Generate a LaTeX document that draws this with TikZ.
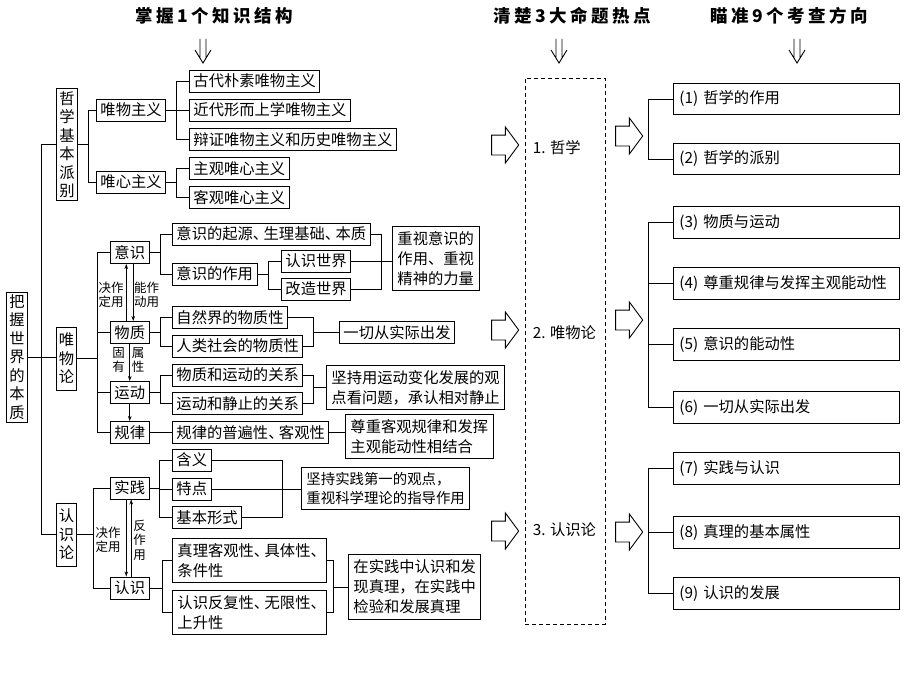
\documentclass[tikz,border=0pt]{standalone}
\usepackage{fontspec}
\setmainfont{Noto Sans CJK SC}
\newfontfamily\ttlfont{Noto Sans CJK SC}[LetterSpace=20]
\usetikzlibrary{arrows.meta,shapes.arrows}
\newcommand{\dunhao}{\makebox[0.7em][l]{、}}

\begin{document}
\begin{tikzpicture}
 [x=1pt,y=-1pt,line width=0.9pt,
  font=\fontsize{15.3}{20}\selectfont,
  box/.style ={draw,anchor=west,minimum height=22pt,inner xsep=4pt,inner ysep=2pt},
  mbox/.style ={draw,anchor=west,align=left,inner xsep=5pt,inner ysep=5pt},
  vbox/.style ={draw,align=center,inner sep=2.5pt,font=\fontsize{15.3}{18.5}\selectfont},
  note/.style ={align=center,inner sep=0pt,font=\fontsize{12.5}{14.5}\selectfont},
  fx/.style ={draw,anchor=west,align=left,text width=214pt,inner xsep=6pt,minimum height=31.5pt},
  hollow/.style ={draw,single arrow,single arrow head extend=8pt,single arrow tip angle=107,minimum height=27pt,inner xsep=0pt,inner ysep=9.5pt},
  ttl/.style ={font=\fontsize{17.5}{20}\selectfont\ttlfont\bfseries},
  oneway/.style ={-{Stealth[length=5pt,width=3.5pt]}},
  dnarrow/.pic ={\draw (-3,0) -- (-3,19) (3,0) -- (3,19) (-8,11) -- (0,24) -- (8,11);}]
 \useasboundingbox (0,0) rectangle (920,690);

 % titles
 \node[ttl] (h1) at (214,16) {掌握1个知识结构};
 \node[ttl] (h2) at (572,16) {清楚3大命题热点};
 \node[ttl] (h3) at (789,16) {瞄准9个考查方向};
 \pic at (203,39) {dnarrow};
 \pic at (559,39) {dnarrow};
 \pic at (797,39) {dnarrow};

 % left trunk
 \node[vbox] (bz) at (17,357) {把\\握\\世\\界\\的\\本\\质};
 \node[vbox] (zx) at (67,144.5) {哲\\学\\基\\本\\派\\别};
 \node[vbox,minimum height=63pt] (wwl) at (66.5,358.5) {唯\\物\\论};
 \node[vbox,minimum height=63pt] (rsl) at (66.5,534.5) {认\\识\\论};
 \draw (zx.west) -- ++(-15,0) |- (rsl.west);
 \draw (bz.east) -- (bz.east -| wwl.west);

 % zhexue jiben paibie
 \node[box] (wz) at (96,110) {唯物主义};
 \node[box] (wx) at (96,182) {唯心主义};
 \node[box] (g1) at (189,81) {古代朴素唯物主义};
 \node[box] (g2) at (189,110) {近代形而上学唯物主义};
 \node[box] (g3) at (189,139.5) {辩证唯物主义和历史唯物主义};
 \node[box] (g4) at (189,168.5) {主观唯心主义};
 \node[box] (g5) at (189,197.5) {客观唯心主义};
 \draw (wz.west) -- ++(-8,0) coordinate (c1) |- (wx.west) (zx.east) -- (zx.east -| c1);
 \draw (g1.west) -- ++(-13,0) coordinate (c2) |- (g3.west) (g2.west) -- ++(-13,0) (wz.east) -- (wz.east -| c2);
 \draw (g4.west) -- ++(-13,0) coordinate (c3) |- (g5.west) (wx.east) -- (wx.east -| c3);

 % weiwulun
 \node[box] (ys) at (110,252.5) {意识};
 \node[box] (wzh) at (110,332.5) {物质};
 \node[box] (yd) at (110,392.5) {运动};
 \node[box] (gl) at (110,432.5) {规律};
 \draw (ys.west) -- ++(-13,0) coordinate (c4) |- (gl.west) (wzh.west) -- ++(-13,0) (yd.west) -- ++(-13,0);
 \draw (wwl.east) -- (wwl.east -| c4);
 \draw[oneway] ([xshift=-3.5pt]wzh.north) -- ([xshift=-3.5pt]ys.south);
 \draw[oneway] ([xshift=3.5pt]ys.south) -- ([xshift=3.5pt]wzh.north);
 \draw[oneway] (wzh.south) -- (yd.north);
 \draw[oneway] (yd.south) -- (gl.north);
 \node[note] (n1) at (111,295) {决作\\定用};
 \node[note] (n2) at (146.5,295) {能作\\动用};
 \node[note] (n3) at (118.5,360) {固\\有};
 \node[note] (n4) at (138,360) {属\\性};

 \node[box] (y1) at (172,234) {意识的起源\dunhao 生理基础\dunhao 本质};
 \node[box] (y2) at (172,274) {意识的作用};
 \node[box] (r1) at (281,261) {认识世界};
 \node[box] (r2) at (281,289) {改造世界};
 \node[mbox] (zs) at (392,258.5) {重视意识的\\作用、重视\\精神的力量};
 \draw (y1.west) -- ++(-12,0) coordinate (c5) |- (y2.west) (ys.east) -- (ys.east -| c5);
 \draw (r1.west) -- ++(-13,0) coordinate (c6) |- (r2.west) (y2.east) -- (y2.east -| c6);
 \coordinate (k1) at (381,0);
 \draw (y1.east) -| (k1 |- r2.east) -- (r2.east) (r1.east) -- (r1.east -| zs.west);

 \node[box] (z1) at (172,317.5) {自然界的物质性};
 \node[box] (z2) at (172,346) {人类社会的物质性};
 \node[box] (qq) at (339,332.5) {一切从实际出发};
 \draw (z1.west) -- ++(-12,0) coordinate (c7) |- (z2.west) (wzh.east) -- (wzh.east -| c7);
 \coordinate (k2) at (313,0);
 \draw (z1.east) -| (k2 |- z2.east) -- (z2.east) (k2 |- qq.west) -- (qq.west);

 \node[box] (d1) at (172,375) {物质和运动的关系};
 \node[box] (d2) at (172,403.5) {运动和静止的关系};
 \node[mbox] (jc) at (326,387.5) {坚持用运动变化发展的观\\点看问题，承认相对静止};
 \draw (d1.west) -- ++(-12,0) coordinate (c8) |- (d2.west) (yd.east) -- (yd.east -| c8);
 \draw (d1.east) -| (k2 |- d2.east) -- (d2.east) (k2 |- jc.west) -- (jc.west);

 \node[box] (l1) at (172,432.5) {规律的普遍性\dunhao 客观性};
 \node[mbox] (zz) at (345,436.5) {尊重客观规律和发挥\\主观能动性相结合};
 \draw (gl.east) -- (l1.west) (l1.east) -- (l1.east -| zz.west);

 % renshilun
 \node[box] (sj) at (110,488) {实践};
 \node[box] (rs) at (110,588) {认识};
 \draw (sj.west) -- ++(-17,0) coordinate (c9) |- (rs.west) (rsl.east) -- (rsl.east -| c9);
 \draw[oneway] ([xshift=-3.5pt]sj.south) -- ([xshift=-3.5pt]rs.north);
 \draw[oneway] ([xshift=1.5pt]rs.north) -- ([xshift=1.5pt]sj.south);
 \node[note] (n5) at (108,540) {决作\\定用};
 \node[note] (n6) at (139.5,540) {反\\作\\用};

 \node[box] (p1) at (172,460) {含义};
 \node[box] (p2) at (172,489) {特点};
 \node[box] (p3) at (172,517.5) {基本形式};
 \node[mbox,font=\fontsize{14.4}{19}\selectfont] (jp) at (301,488.5) {坚持实践第一的观点，\\重视科学理论的指导作用};
 \draw (p1.west) -- ++(-13,0) coordinate (c10) |- (p3.west) (p2.west) -- ++(-13,0) (sj.east) -- (sj.east -| c10);
 \coordinate (k3) at (282,0);
 \draw (p1.east) -| (k3 |- p3.east) -- (p3.east) (p2.east) -- (p2.east -| jp.west);

 \node[mbox] (t1) at (172,560.5) {真理客观性\dunhao 具体性\dunhao\\条件性};
 \node[mbox] (t2) at (172,612.5) {认识反复性\dunhao 无限性\dunhao\\上升性};
 \node[mbox] (zj) at (348,587) {在实践中认识和发\\现真理，在实践中\\检验和发展真理};
 \draw (t1.west) -- ++(-10,0) coordinate (c11) |- (t2.west) (rs.east) -- (rs.east -| c11);
 \coordinate (k4) at (333,0);
 \draw (t1.east) -| (k4 |- t2.east) -- (t2.east) (k4 |- zj.west) -- (zj.west);

 % hot points
 \node[draw,line width=0.7pt,dash pattern=on 4pt off 3pt,minimum width=80pt,minimum height=546pt] (hot) at (565,351) {};
 \node[anchor=west] (m1) at (529,148) {1. 哲学};
 \node[anchor=west] (m2) at (529,333) {2. 唯物论};
 \node[anchor=west] (m3) at (529,530) {3. 认识论};
 \node[hollow] (a1) at (501.5,145) {};
 \node[hollow] (a2) at (501.5,330) {};
 \node[hollow] (a3) at (501.5,531) {};
 \node[hollow] (b1) at (625.5,136) {};
 \node[hollow] (b2) at (625.5,320) {};
 \node[hollow] (b3) at (625.5,532) {};

 % directions
 \node[fx] (f1) at (673,99) {(1) 哲学的作用};
 \node[fx] (f2) at (673,159) {(2) 哲学的派别};
 \node[fx] (f3) at (673,222.5) {(3) 物质与运动};
 \node[fx] (f4) at (673,283.5) {(4) 尊重规律与发挥主观能动性};
 \node[fx] (f5) at (673,344.5) {(5) 意识的能动性};
 \node[fx] (f6) at (673,407.5) {(6) 一切从实际出发};
 \node[fx] (f7) at (673,468.5) {(7) 实践与认识};
 \node[fx] (f8) at (673,532.5) {(8) 真理的基本属性};
 \node[fx] (f9) at (673,593.5) {(9) 认识的发展};
 \draw (f1.west) -- ++(-25,0) |- (f2.west);
 \draw (f3.west) -- ++(-25,0) |- (f6.west) (f4.west) -- ++(-25,0) (f5.west) -- ++(-25,0);
 \draw (f7.west) -- ++(-25,0) |- (f9.west) (f8.west) -- ++(-25,0);
\end{tikzpicture}
\end{document}
